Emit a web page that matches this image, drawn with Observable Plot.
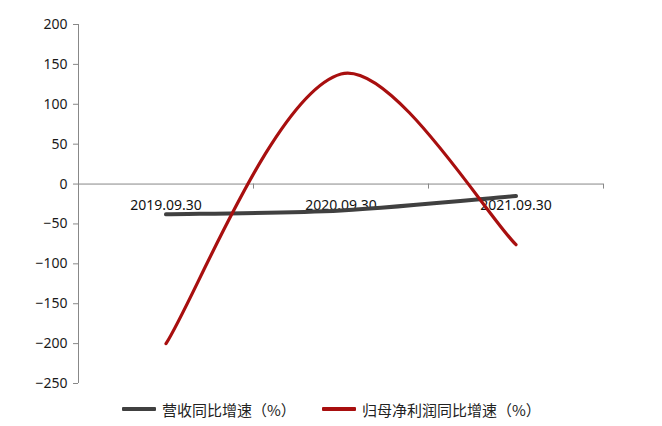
<!DOCTYPE html>
<html>
<head>
<meta charset="utf-8">
<script src="https://cdn.jsdelivr.net/npm/d3@7"></script>
<script src="https://cdn.jsdelivr.net/npm/@observablehq/plot@0.6"></script>
<style>
  html, body { margin: 0; padding: 0; background: #fff; }
  #wrap { position: relative; width: 662px; height: 426px; font-family: "Noto Sans CJK SC", "Noto Sans", sans-serif; }
  #legend { position: absolute; left: 0; top: 396px; width: 662px; height: 26px; font-size: 15px; color: #222; }
  .item { position: absolute; top: 0; display: flex; align-items: center; height: 26px; }
  .sw { width: 34px; height: 4px; margin-right: 6px; border-radius: 1px; }
</style>
</head>
<body>
<div id="wrap">
  <div id="chart"></div>
  <div id="legend"></div>
</div>
<script>
const categories = ["2019.09.30", "2020.09.30", "2021.09.30"];
const revenueGrowth = [-38, -33, -15];
const profitGrowth = [-200, 138, -76];
const seriesNames = ["营收同比增速（%）", "归母净利润同比增速（%）"];
const seriesColors = ["#404040", "#a80f0f"];
const yTicks = [200, 150, 100, 50, 0, -50, -100, -150, -200, -250];

const idx = categories.map((_, i) => i);
const bounds = categories.map((_, i) => i + 0.5);
const revData = idx.map(i => ({x: i, y: revenueGrowth[i]}));
const profData = idx.map(i => ({x: i, y: profitGrowth[i]}));

// Spreadsheet-style smoothed line (Bezier with chord-weighted tangents)
function smoothCurve(context) {
  const f = 1 / 6;
  let pts;
  return {
    areaStart() {}, areaEnd() {},
    lineStart() { pts = []; },
    point(x, y) { pts.push([+x, +y]); },
    lineEnd() {
      const n = pts.length;
      if (!n) return;
      context.moveTo(pts[0][0], pts[0][1]);
      if (n === 1) return;
      const hin = [], hout = [];
      const dist = (a, b) => Math.hypot(b[0] - a[0], b[1] - a[1]);
      for (let i = 1; i < n - 1; i++) {
        const T = [pts[i+1][0] - pts[i-1][0], pts[i+1][1] - pts[i-1][1]];
        const dp = dist(pts[i-1], pts[i]), dn = dist(pts[i], pts[i+1]);
        const kIn = f * 2 * dp / (dp + dn), kOut = f * 2 * dn / (dp + dn);
        hin[i] = [pts[i][0] - T[0] * kIn, pts[i][1] - T[1] * kIn];
        hout[i] = [pts[i][0] + T[0] * kOut, pts[i][1] + T[1] * kOut];
      }
      hout[0] = [pts[0][0] + (pts[1][0] - pts[0][0]) * f, pts[0][1] + (pts[1][1] - pts[0][1]) * f];
      hin[n-1] = [pts[n-1][0] + (pts[n-2][0] - pts[n-1][0]) * f, pts[n-1][1] + (pts[n-2][1] - pts[n-1][1]) * f];
      for (let i = 0; i < n - 1; i++) {
        context.bezierCurveTo(hout[i][0], hout[i][1], hin[i+1][0], hin[i+1][1], pts[i+1][0], pts[i+1][1]);
      }
    }
  };
}

const chart = Plot.plot({
  width: 662,
  height: 395,
  marginLeft: 78,
  marginRight: 59,
  marginTop: 24,
  marginBottom: 12,
  style: {fontFamily: "'Noto Sans', 'Noto Sans CJK SC', sans-serif", fontSize: "14px", color: "#222", background: "#fff"},
  x: {type: "linear", domain: [-0.5, categories.length - 0.5], axis: null},
  y: {domain: [-250, 200], axis: null},
  marks: [
    Plot.axisY({ticks: yTicks, label: null, tickSize: 5, tickPadding: 6, stroke: "#888", fill: "#1a1a1a", fontSize: 14}),
    Plot.ruleX([-0.5], {y1: -250, y2: 200, stroke: "#888"}),
    Plot.ruleY([0], {stroke: "#888"}),
    Plot.ruleX(bounds, {x: d => d, y1: 0, y2: -6.3, stroke: "#888"}),
    Plot.text(idx, {x: d => d, y: 0, text: d => categories[d], dy: 21, fontSize: 14, fill: "#111"}),
    Plot.line(revData, {x: "x", y: "y", stroke: seriesColors[0], strokeWidth: 4, curve: smoothCurve}),
    Plot.line(profData, {x: "x", y: "y", stroke: seriesColors[1], strokeWidth: 3.2, curve: smoothCurve})
  ]
});
document.getElementById("chart").appendChild(chart);

const legend = document.getElementById("legend");
const lefts = [122, 322];
seriesNames.forEach((name, i) => {
  const it = document.createElement("div");
  it.className = "item";
  it.style.left = lefts[i] + "px";
  const sw = document.createElement("div");
  sw.className = "sw";
  sw.style.background = seriesColors[i];
  const t = document.createElement("span");
  t.textContent = name;
  it.appendChild(sw);
  it.appendChild(t);
  legend.appendChild(it);
});
</script>
</body>
</html>
